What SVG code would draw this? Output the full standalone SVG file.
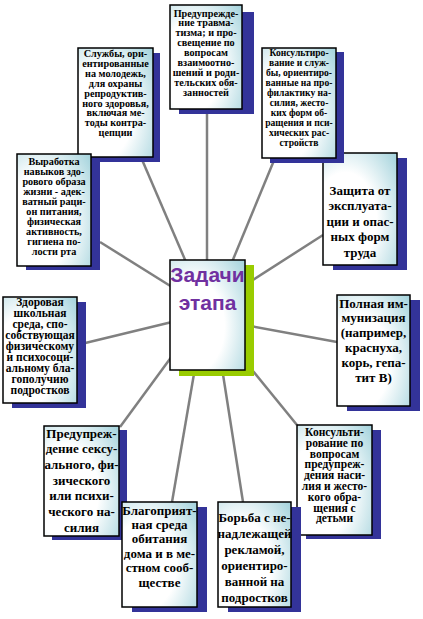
<svg xmlns="http://www.w3.org/2000/svg" width="423" height="619" viewBox="0 0 423 619">
<defs>
<radialGradient id="g" cx="0.3" cy="0.6" r="0.95">
<stop offset="0" stop-color="#ffffff"/>
<stop offset="0.45" stop-color="#ffffff"/>
<stop offset="1" stop-color="#9ccfd9"/>
</radialGradient>
</defs>
<style>
.sh{fill:#333399}
.bx{fill:url(#g);stroke:#000;stroke-width:1.5}
.t{font-family:"Liberation Serif","Times New Roman",serif;font-weight:bold;fill:#000;text-anchor:middle}
.s9{font-size:9.6px}
.s10{font-size:10.2px}
.s12{font-size:11.5px}
.s13{font-size:13px}
.ln{stroke:#808080;stroke-width:2.5;fill:none}
</style>
<rect width="423" height="619" fill="#fff"/>
<g id="connectors">
<line class="ln" x1="207" y1="109" x2="207" y2="262"/>
<line class="ln" x1="140" y1="155" x2="186" y2="262"/>
<line class="ln" x1="275" y1="158" x2="232" y2="262"/>
<line class="ln" x1="100" y1="242" x2="172" y2="287"/>
<line class="ln" x1="323" y1="235" x2="245" y2="285"/>
<line class="ln" x1="77" y1="345" x2="172" y2="322"/>
<line class="ln" x1="245" y1="325" x2="337" y2="342"/>
<line class="ln" x1="240" y1="355" x2="297" y2="425"/>
<line class="ln" x1="120" y1="427" x2="175" y2="352"/>
<line class="ln" x1="172" y1="502" x2="195" y2="368"/>
<line class="ln" x1="243" y1="502" x2="222" y2="368"/>
</g>
<g id="center">
<rect x="179" y="265" width="75" height="111" fill="#99cc00"/>
<rect class="bx" x="170" y="260" width="75" height="110"/>
<text x="207.5" y="282" font-family="'Liberation Sans',Arial,sans-serif" font-weight="bold" font-size="21" fill="#7030a0" text-anchor="middle">Задачи</text>
<text x="207.5" y="310" font-family="'Liberation Sans',Arial,sans-serif" font-weight="bold" font-size="21" fill="#7030a0" text-anchor="middle">этапа</text>
</g>
<g id="n1">
<rect class="sh" x="179" y="12" width="75" height="102"/>
<rect class="bx" x="170" y="5" width="72" height="104"/>
<text class="t s10"><tspan x="206" y="16.5">Предупрежде-</tspan><tspan x="206" y="26.4">ние травма-</tspan><tspan x="206" y="36.3">тизма; и про-</tspan><tspan x="206" y="46.2">свещение по</tspan><tspan x="206" y="56.1">вопросам</tspan><tspan x="206" y="66">взаимоотно-</tspan><tspan x="206" y="75.9">шений и роди-</tspan><tspan x="206" y="85.8">тельских обя-</tspan><tspan x="206" y="95.7">занностей</tspan></text>
</g>
<g id="n2">
<rect class="sh" x="85" y="53" width="75" height="109"/>
<rect class="bx" x="78" y="48" width="75" height="109"/>
<text class="t s10"><tspan x="115.5" y="57">Службы, ори-</tspan><tspan x="115.5" y="66.9">ентированные</tspan><tspan x="115.5" y="76.8">на молодежь,</tspan><tspan x="115.5" y="86.7">для охраны</tspan><tspan x="115.5" y="96.6">репродуктив-</tspan><tspan x="115.5" y="106.5">ного здоровья,</tspan><tspan x="115.5" y="116.4">включая ме-</tspan><tspan x="115.5" y="126.3">тоды контра-</tspan><tspan x="115.5" y="136.2">цепции</tspan></text>
</g>
<g id="n5">
<rect class="sh" x="333" y="158" width="74" height="112"/>
<rect class="bx" x="323" y="153" width="74" height="112"/>
<text class="t s13"><tspan x="360" y="194.5">Защита от</tspan><tspan x="360" y="210">эксплуата-</tspan><tspan x="360" y="225.5">ции и опас-</tspan><tspan x="360" y="241">ных форм</tspan><tspan x="360" y="256.5">труда</tspan></text>
</g>
<g id="n3">
<rect class="sh" x="270" y="52" width="74" height="111"/>
<rect class="bx" x="262" y="48" width="74" height="110"/>
<text class="t s9"><tspan x="299" y="55.5">Консультиро-</tspan><tspan x="299" y="65.5">вание и служ-</tspan><tspan x="299" y="75.5">бы, ориентиро-</tspan><tspan x="299" y="85.5">ванные на про-</tspan><tspan x="299" y="95.5">филактику на-</tspan><tspan x="299" y="105.5">силия, жесто-</tspan><tspan x="299" y="115.5">ких форм об-</tspan><tspan x="299" y="125.5">ращения и пси-</tspan><tspan x="299" y="135.5">хических рас-</tspan><tspan x="299" y="145.5">стройств</tspan></text>
</g>
<g id="n4">
<rect class="sh" x="26" y="160" width="74" height="110"/>
<rect class="bx" x="17" y="154" width="74" height="112"/>
<text class="t s10"><tspan x="54" y="164.5">Выработка</tspan><tspan x="54" y="174.6">навыков здо-</tspan><tspan x="54" y="184.7">рового образа</tspan><tspan x="54" y="194.8">жизни - адек-</tspan><tspan x="54" y="204.9">ватный раци-</tspan><tspan x="54" y="215">он питания,</tspan><tspan x="54" y="225.1">физическая</tspan><tspan x="54" y="235.2">активность,</tspan><tspan x="54" y="245.3">гигиена по-</tspan><tspan x="54" y="255.4">лости рта</tspan></text>
</g>
<g id="n6">
<rect class="sh" x="12" y="302" width="74" height="106"/>
<rect class="bx" x="3" y="297" width="74" height="106"/>
<text class="t s12"><tspan x="40" y="306">Здоровая</tspan><tspan x="40" y="317">школьная</tspan><tspan x="40" y="328">среда, спо-</tspan><tspan x="40" y="339">собствующая</tspan><tspan x="40" y="350">физическому</tspan><tspan x="40" y="361">и психосоци-</tspan><tspan x="40" y="372">альному бла-</tspan><tspan x="40" y="383">гополучию</tspan><tspan x="40" y="394">подростков</tspan></text>
</g>
<g id="n7">
<rect class="sh" x="347" y="300" width="73" height="111"/>
<rect class="bx" x="337" y="295" width="73" height="111"/>
<text class="t s13"><tspan x="373.5" y="307.5">Полная им-</tspan><tspan x="373.5" y="322.3">мунизация</tspan><tspan x="373.5" y="337.1">(например,</tspan><tspan x="373.5" y="351.9">краснуха,</tspan><tspan x="373.5" y="366.7">корь, гепа-</tspan><tspan x="373.5" y="381.5">тит В)</tspan></text>
</g>
<g id="n8">
<rect class="sh" x="306" y="430" width="75" height="109"/>
<rect class="bx" x="297" y="425" width="75" height="110"/>
<text class="t s12"><tspan x="334.5" y="436">Консульти-</tspan><tspan x="334.5" y="446.8">рование по</tspan><tspan x="334.5" y="457.6">вопросам</tspan><tspan x="334.5" y="468.4">предупреж-</tspan><tspan x="334.5" y="479.2">дения наси-</tspan><tspan x="334.5" y="490">лия и жесто-</tspan><tspan x="334.5" y="500.8">кого обра-</tspan><tspan x="334.5" y="511.6">щения с</tspan><tspan x="334.5" y="522.4">детьми</tspan></text>
</g>
<g id="n9">
<rect class="sh" x="52" y="430" width="75" height="110"/>
<rect class="bx" x="44" y="426" width="75" height="110"/>
<text class="t s13"><tspan x="81.5" y="437.5">Предупреж-</tspan><tspan x="81.5" y="453.2">дение сексу-</tspan><tspan x="81.5" y="468.9">ального, фи-</tspan><tspan x="81.5" y="484.6">зического</tspan><tspan x="81.5" y="500.3">или психи-</tspan><tspan x="81.5" y="516">ческого на-</tspan><tspan x="81.5" y="531.7">силия</tspan></text>
</g>
<g id="n10">
<rect class="sh" x="132" y="507" width="75" height="105"/>
<rect class="bx" x="122" y="502" width="75" height="105"/>
<text class="t s13"><tspan x="159.5" y="514.5">Благоприят-</tspan><tspan x="159.5" y="528.9">ная среда</tspan><tspan x="159.5" y="543.3">обитания</tspan><tspan x="159.5" y="557.7">дома и в ме-</tspan><tspan x="159.5" y="572.1">стном сооб-</tspan><tspan x="159.5" y="586.5">ществе</tspan></text>
</g>
<g id="n11">
<rect class="sh" x="228" y="507" width="73" height="105"/>
<rect class="bx" x="218" y="502" width="73" height="105"/>
<text class="t s13"><tspan x="254.5" y="521.5">Борьба с не-</tspan><tspan x="254.5" y="537.5">надлежащей</tspan><tspan x="254.5" y="553.5">рекламой,</tspan><tspan x="254.5" y="569.5">ориентиро-</tspan><tspan x="254.5" y="585.5">ванной на</tspan><tspan x="254.5" y="601.5">подростков</tspan></text>
</g>
</svg>
